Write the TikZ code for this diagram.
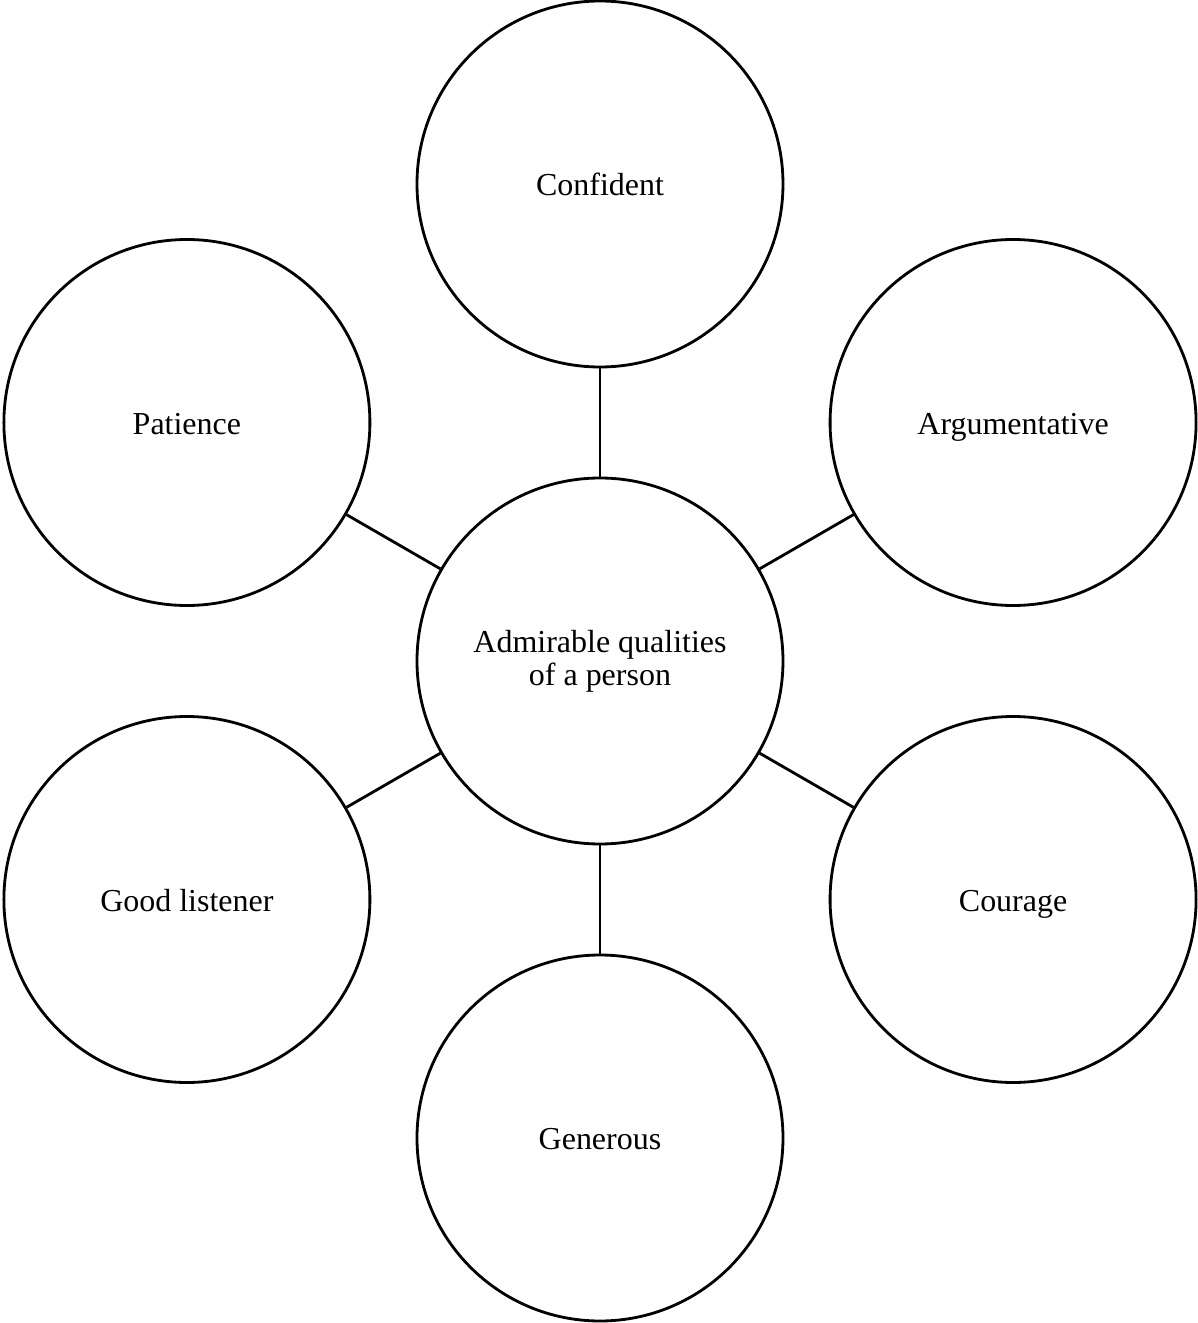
\documentclass[tikz,border=0pt]{standalone}
\usepackage{fontspec}
\setmainfont{Liberation Serif}
\usepackage{tikz}
\usetikzlibrary{calc}

\begin{document}
\begin{tikzpicture}[scale=1.0,
	quality/.style={draw, circle, line width=1.6pt, inner sep=0pt,
		minimum size=7.32cm, align=center,
		font=\fontsize{18.2}{18.8}\selectfont},
	single/.style={text height=13.6pt, text depth=0pt},
	link/.style={line width=1.6pt}]

% parameters %{{{2

	\def\numsides{6}
	\def\radius{9.54}
	\def\rotation{90}

% frame %{{{2

	\useasboundingbox (-12.0,-13.24) rectangle (11.96,13.22);

% centre %{{{2

	\node[quality] (O) at (0,0) {Admirable qualities\\of a person};

% qualities %{{{2

	\foreach \i/\txt in {1/Confident,2/Patience,3/Good listener,
		4/Generous,5/Courage,6/Argumentative} {
		\node[quality, single] (P\i) at ({360/\numsides*(\i-1)+\rotation}:\radius) {\txt};
	}

% links %{{{2

	\foreach \i in {1,...,\numsides} { \draw[link] (O) -- (P\i); }

% closing %{{{2

\end{tikzpicture}
\end{document}
